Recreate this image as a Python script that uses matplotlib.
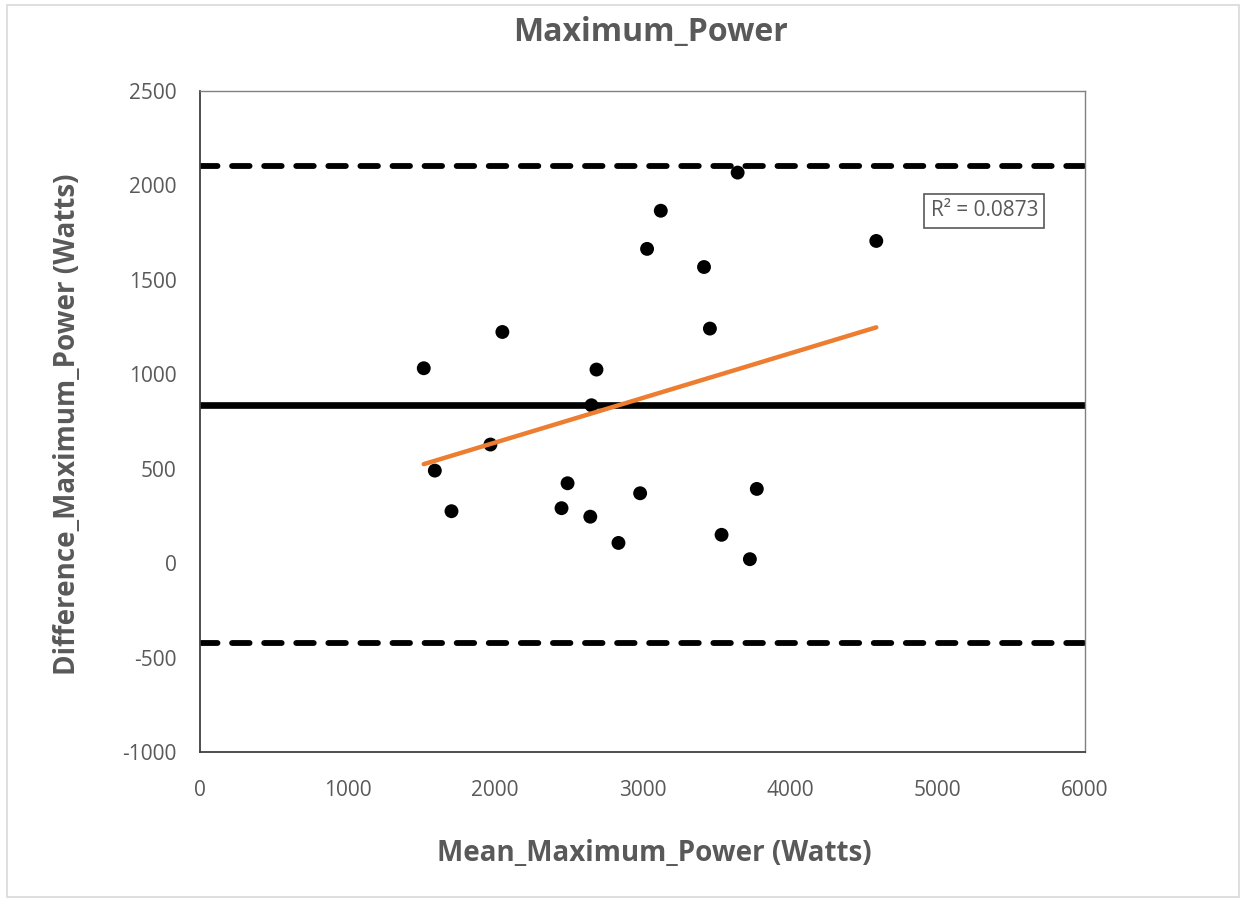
import numpy as np
import matplotlib
matplotlib.use("Agg")
import matplotlib.pyplot as plt
from matplotlib.patches import Rectangle

# Data
mean_power = [1517, 2050, 1592, 1705, 1969, 2492, 2451, 2646, 2688, 2654, 2837,
              2984, 3031, 3124, 3417, 3457, 3645, 3536, 3728, 3775, 4585]
diff_power = [1032, 1224, 490, 275, 628, 423, 291, 246, 1025, 836, 107,
              370, 1664, 1866, 1568, 1242, 2068, 150, 21, 393, 1706]

title = "Maximum_Power"
xlabel = "Mean_Maximum_Power (Watts)"
ylabel = "Difference_Maximum_Power (Watts)"
xticks = [0, 1000, 2000, 3000, 4000, 5000, 6000]
yticks = [-1000, -500, 0, 500, 1000, 1500, 2000, 2500]

x = np.array(mean_power, dtype=float)
y = np.array(diff_power, dtype=float)
md = y.mean()
sd = y.std(ddof=1)
upper = md + 1.96 * sd
lower = md - 1.96 * sd
slope, intercept = np.polyfit(x, y, 1)
pred = slope * x + intercept
r2 = 1 - ((y - pred) ** 2).sum() / ((y - y.mean()) ** 2).sum()

plt.rcParams['font.family'] = ['Open Sans', 'DejaVu Sans']
plt.rcParams['axes.unicode_minus'] = False
grey = '#595959'

fig = plt.figure(figsize=(12.44, 9.01), dpi=100)
fig.patches.append(Rectangle((0.006, 0.004), 0.99, 0.99, transform=fig.transFigure,
                             fill=False, edgecolor='#d9d9d9', linewidth=1.2))
ax = fig.add_axes([200/1244, 1-752/901, 885/1244, (752-91)/901])

ax.set_xlim(0, 6000)
ax.set_ylim(-1000, 2500)
ax.set_xticks(xticks)
ax.set_yticks(yticks)
ax.tick_params(length=0, labelsize=15, labelcolor=grey)
ax.tick_params(axis='y', pad=17)
ax.tick_params(axis='x', pad=20)
for s in ['left', 'bottom']:
    ax.spines[s].set_color('#404040')
    ax.spines[s].set_linewidth(1.3)
for s in ['top', 'right']:
    ax.spines[s].set_color('#808080')
    ax.spines[s].set_linewidth(1.0)

ax.axhline(md, color='black', linewidth=4.8, zorder=2)
for lv in (upper, lower):
    ax.axhline(lv, color='black', linewidth=4.2, linestyle=(0, (3.0, 2.5)),
               dash_capstyle='round', zorder=2)

ax.scatter(x, y, s=100, color='black', zorder=3, edgecolors='none')
xs = np.array([x.min(), x.max()])
ax.plot(xs, slope * xs + intercept, color='#ED7D31', linewidth=3.2,
        solid_capstyle='round', zorder=4)

ax.text(5318, 1865, f"R\u00b2 = {r2:.4f}", ha='center', va='center', fontsize=15,
        color=grey, bbox=dict(boxstyle='square,pad=0.3', facecolor='white',
                              edgecolor='#595959', linewidth=1.2), zorder=5)

fig.text(651/1244, 1-33/901, title, ha='center', va='center', fontsize=23,
         fontweight='bold', color=grey)
fig.text(654/1244, 1-853/901, xlabel, ha='center', va='center', fontsize=20,
         fontweight='bold', color=grey)
fig.text(68/1244, 1-424/901, ylabel, ha='center', va='center', fontsize=20,
         fontweight='bold', color=grey, rotation=90)

fig.savefig('out.png', dpi=100)
